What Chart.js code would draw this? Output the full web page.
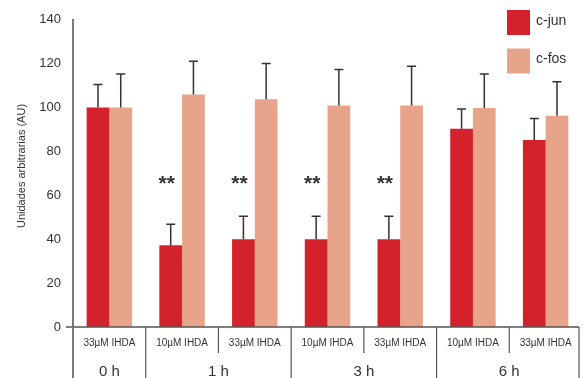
<!DOCTYPE html>
<html>
<head>
<meta charset="utf-8">
<script src="https://cdn.jsdelivr.net/npm/chart.js@4"></script>
<style>
  html, body { margin: 0; padding: 0; background: #fff; }
  #wrap { width: 586px; height: 378px; }
</style>
</head>
<body>
<div id="wrap"><canvas id="c" width="586" height="378"></canvas></div>
<script>
// Treatment conditions (one bar pair each) and the time points they belong to
const conditions = ['33\u00B5M IHDA', '10\u00B5M IHDA', '33\u00B5M IHDA', '10\u00B5M IHDA', '33\u00B5M IHDA', '10\u00B5M IHDA', '33\u00B5M IHDA'];
const timeLabels = ['0 h', '1 h', '3 h', '6 h'];
const timeSpans = [1, 2, 2, 2];

// Expression levels (arbitrary units) and upper error
const cJun = [100, 37.2, 40, 40, 40, 90.3, 85.2];
const cJunErr = [10.5, 9.6, 10.5, 10.5, 10.5, 9.1, 9.8];
const cFos = [100, 106, 103.8, 101, 101, 99.8, 96.3];
const cFosErr = [15.3, 15.1, 16.3, 16.4, 17.8, 15.5, 15.5];
const significance = ['', '**', '**', '**', '**', '', ''];

const yTicks = [0, 20, 40, 60, 80, 100, 120, 140];
const yTitle = 'Unidades arbitrarias (AU)';

const FONT = '"Liberation Sans", Arial, Helvetica, sans-serif';
const TEXT = '#333333';

const errors = [cJunErr, cFosErr];

const decorPlugin = {
  id: 'decor',
  afterDatasetsDraw(chart) {
    const ctx = chart.ctx;
    const y = chart.scales.y;

    // error bars (upper whisker only)
    ctx.save();
    ctx.strokeStyle = '#333';
    ctx.lineWidth = 1.5;
    chart.data.datasets.forEach((ds, di) => {
      const meta = chart.getDatasetMeta(di);
      meta.data.forEach((bar, i) => {
        const topY = y.getPixelForValue(ds.data[i] + errors[di][i]);
        ctx.beginPath();
        ctx.moveTo(bar.x, bar.y);
        ctx.lineTo(bar.x, topY);
        ctx.moveTo(bar.x - 4.5, topY);
        ctx.lineTo(bar.x + 4.5, topY);
        ctx.stroke();
      });
    });
    ctx.restore();

    // significance marks next to the c-jun bars
    ctx.save();
    ctx.fillStyle = '#333';
    ctx.font = 'bold 21px ' + FONT;
    ctx.textAlign = 'center';
    ctx.textBaseline = 'alphabetic';
    const junMeta = chart.getDatasetMeta(0);
    significance.forEach((s, i) => {
      if (!s) return;
      ctx.fillText(s, junMeta.data[i].x - 4, y.getPixelForValue(66) + 8);
    });
    ctx.restore();
  },
  afterDraw(chart) {
    const ctx = chart.ctx;
    const x = chart.scales.x;
    const area = chart.chartArea;
    const bottom = chart.height;
    const n = conditions.length;
    const step = x.getPixelForValue(1) - x.getPixelForValue(0);

    ctx.save();
    // y axis title
    ctx.save();
    ctx.translate(22, 166);
    ctx.rotate(-Math.PI / 2);
    ctx.fillStyle = TEXT;
    ctx.font = '11px ' + FONT;
    ctx.textAlign = 'center';
    ctx.textBaseline = 'middle';
    ctx.fillText(yTitle, 0, 0);
    ctx.restore();

    // baseline
    ctx.strokeStyle = '#555';
    ctx.lineWidth = 1.5;
    ctx.beginPath();
    ctx.moveTo(area.left - 7, area.bottom);
    ctx.lineTo(area.right - 3, area.bottom);
    ctx.stroke();

    // y axis continues through the label rows
    ctx.strokeStyle = '#7a7a7a';
    ctx.lineWidth = 2;
    ctx.beginPath();
    ctx.moveTo(area.left, area.bottom);
    ctx.lineTo(area.left, bottom);
    ctx.stroke();

    // separators between conditions and between time points
    const groupEnds = new Set();
    let acc = 0;
    timeSpans.forEach(s => { acc += s; groupEnds.add(acc); });
    ctx.strokeStyle = '#555';
    ctx.lineWidth = 1.2;
    for (let i = 1; i <= n; i++) {
      const bx = (i < n) ? (x.getPixelForValue(i - 1) + x.getPixelForValue(i)) / 2
                         : x.getPixelForValue(n - 1) + step / 2 - 3;
      const full = groupEnds.has(i);
      ctx.beginPath();
      ctx.moveTo(bx, area.bottom);
      ctx.lineTo(bx, full ? bottom : area.bottom + 26);
      ctx.stroke();
    }

    // condition labels
    ctx.fillStyle = TEXT;
    ctx.font = '10px ' + FONT;
    ctx.textAlign = 'center';
    ctx.textBaseline = 'middle';
    conditions.forEach((c, i) => {
      ctx.fillText(c, x.getPixelForValue(i), area.bottom + 16);
    });

    // time point labels
    ctx.font = '15px ' + FONT;
    let start = 0;
    timeLabels.forEach((t, g) => {
      const end = start + timeSpans[g] - 1;
      const cx = (x.getPixelForValue(start) + x.getPixelForValue(end)) / 2;
      ctx.fillText(t, cx, area.bottom + 45);
      start = end + 1;
    });

    // legend
    ctx.font = '14px ' + FONT;
    ctx.textAlign = 'left';
    chart.data.datasets.forEach((ds, di) => {
      const top = 10 + di * 38.5;
      ctx.fillStyle = ds.backgroundColor;
      ctx.fillRect(507, top, 23, 25);
      ctx.fillStyle = TEXT;
      ctx.fillText(ds.label, 536, top + 11);
    });
    ctx.restore();
  }
};

new Chart(document.getElementById('c'), {
  type: 'bar',
  data: {
    labels: conditions,
    datasets: [
      { label: 'c-jun', data: cJun, backgroundColor: '#D3222C' },
      { label: 'c-fos', data: cFos, backgroundColor: '#E8A48B' }
    ]
  },
  options: {
    responsive: false,
    animation: false,
    devicePixelRatio: 1,
    layout: { padding: { top: 18, right: 4, left: 0, bottom: 0 } },
    plugins: { legend: { display: false }, tooltip: { enabled: false } },
    datasets: { bar: { categoryPercentage: 0.625, barPercentage: 1.0 } },
    scales: {
      x: {
        grid: { display: false },
        border: { display: false },
        ticks: { display: false },
        afterFit(scale) { scale.width = scale.width; scale.height = 51; }
      },
      y: {
        min: 0,
        max: 140,
        afterBuildTicks(scale) { scale.ticks = yTicks.map(v => ({ value: v })); },
        grid: { display: false, drawTicks: false },
        border: { display: true, color: '#7a7a7a', width: 2 },
        ticks: { color: TEXT, font: { family: FONT, size: 13 }, padding: 12 },
        title: { display: false },
        afterFit(scale) { scale.width = 73; }
      }
    }
  },
  plugins: [decorPlugin]
});
</script>
</body>
</html>
